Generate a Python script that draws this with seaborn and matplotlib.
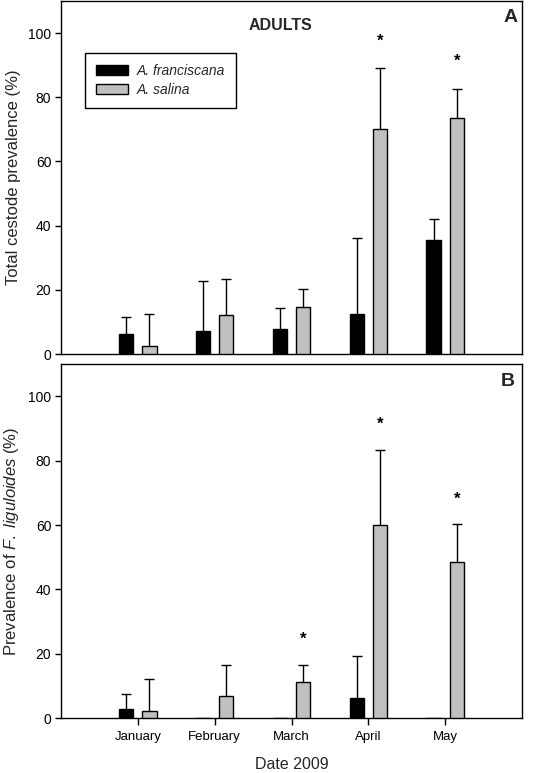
import numpy as np
import pandas as pd
import matplotlib
matplotlib.use("Agg")
import matplotlib.pyplot as plt
import seaborn as sns
from matplotlib.patches import Patch

months = ["January", "February", "March", "April", "May"]
species = ["A. franciscana", "A. salina"]

# Panel A: total cestode prevalence (%)
a_fran = [6.1, 7.2, 7.8, 12.6, 35.4]
a_fran_up = [11.5, 22.7, 14.4, 36.0, 42.0]
a_sal = [2.4, 12.3, 14.6, 70.0, 73.5]
a_sal_up = [12.4, 23.3, 20.2, 89.2, 82.6]
a_stars = [(3, 97.4), (4, 91.2)]  # (month index, y) for A. salina

# Panel B: prevalence of F. liguloides (%)
b_fran = [2.9, 0.0, 0.0, 6.2, 0.0]
b_fran_up = [7.6, np.nan, np.nan, 19.4, np.nan]
b_sal = [2.4, 6.8, 11.3, 59.9, 48.6]
b_sal_up = [12.3, 16.7, 16.5, 83.2, 60.2]
b_stars = [(2, 24.4), (3, 91.2), (4, 68.1)]

colors = ["#000000", "#c0c0c0"]

sns.set_theme(style="ticks")
plt.rcParams["font.family"] = ["Liberation Sans", "DejaVu Sans"]
plt.rcParams["mathtext.fontset"] = "custom"
plt.rcParams["mathtext.it"] = "Liberation Sans:italic"
plt.rcParams["mathtext.rm"] = "Liberation Sans"

fig = plt.figure(figsize=(5.58, 7.73), dpi=100)
W, H = 558, 773
axA = fig.add_axes([61 / W, 1 - 354 / H, 461 / W, 353 / H])
axB = fig.add_axes([61 / W, 1 - 718.3 / H, 461 / W, 354.3 / H])


def panel(ax, fran, fran_up, sal, sal_up, stars):
    df = pd.DataFrame({
        "month": months * 2,
        "species": [species[0]] * 5 + [species[1]] * 5,
        "value": list(fran) + list(sal),
    })
    sns.barplot(data=df, x="month", y="value", hue="species", order=months,
                hue_order=species, palette=colors, width=0.6, gap=0.38,
                edgecolor="black", linewidth=1.0, saturation=1, errorbar=None,
                legend=False, ax=ax, zorder=3)
    ups = [fran_up, sal_up]
    vals = [fran, sal]
    xs_by_hue = []
    for ci, cont in enumerate(ax.containers):
        xs = [p.get_x() + p.get_width() / 2 for p in cont.patches]
        xs_by_hue.append(xs)
        for x, v, u in zip(xs, vals[ci], ups[ci]):
            if np.isnan(u):
                continue
            ax.vlines(x, v, u, color="black", lw=1.0, zorder=2)
            ax.hlines(u, x - 0.065, x + 0.065, color="black", lw=1.0, zorder=2)
    for mi, y in stars:
        ax.text(xs_by_hue[1][mi], y, "*", ha="center", va="center",
                fontsize=12, fontweight="bold", color="black")
    ax.set_xlim(-1, 5)
    ax.set_ylim(0, 110)
    ax.set_yticks([0, 20, 40, 60, 80, 100])
    for s in ax.spines.values():
        s.set_visible(True)
        s.set_color("black")
        s.set_linewidth(1.0)
    ax.tick_params(axis="y", direction="out", length=4, width=1, labelsize=10,
                   colors="black", pad=3)
    ax.set_xlabel("")


panel(axA, a_fran, a_fran_up, a_sal, a_sal_up, a_stars)
panel(axB, b_fran, b_fran_up, b_sal, b_sal_up, b_stars)

axA.tick_params(axis="x", bottom=False, labelbottom=False)
axB.tick_params(axis="x", direction="out", length=5, width=1, labelsize=9.5,
                colors="black", pad=4)

axA.set_ylabel("Total cestode prevalence (%)", fontsize=12, labelpad=5)
axB.set_ylabel(r"Prevalence of $\mathit{F.\ liguloides}$ (%)", fontsize=12, labelpad=5)
axB.set_xlabel("Date 2009", fontsize=11.5, labelpad=10)

axA.text(0.475, 0.93, "ADULTS", transform=axA.transAxes, ha="center",
         va="center", fontsize=11.5, fontweight="bold")
axA.text(0.975, 0.952, "A", transform=axA.transAxes, ha="center",
         va="center", fontsize=14, fontweight="bold")
axB.text(0.97, 0.95, "B", transform=axB.transAxes, ha="center",
         va="center", fontsize=14, fontweight="bold")

handles = [Patch(facecolor=colors[0], edgecolor="black", lw=1),
           Patch(facecolor=colors[1], edgecolor="black", lw=1)]
leg = axA.legend(handles, species, loc="upper left",
                 bbox_to_anchor=((85 - 61) / 461, 1 - (53 - 1) / 353),
                 fontsize=10, frameon=True, fancybox=False, framealpha=1,
                 edgecolor="black", handlelength=2.3, handleheight=0.7,
                 labelspacing=0.35, borderpad=0.8, handletextpad=0.6,
                 borderaxespad=0)
leg.get_frame().set_linewidth(1.0)
for t in leg.get_texts():
    t.set_fontstyle("italic")

fig.savefig("out.png", dpi=100)
